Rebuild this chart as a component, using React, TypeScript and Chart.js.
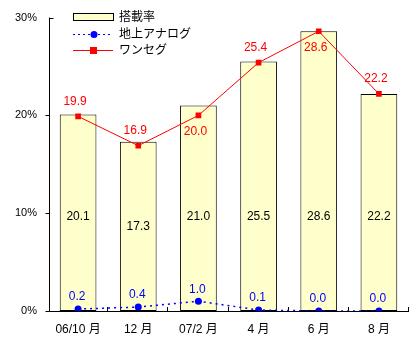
import React, { useEffect, useRef } from "react";
import { Chart, registerables } from "chart.js";

Chart.register(...registerables);

const categories = ["06/10 月", "12 月", "07/2 月", "4 月", "6 月", "8 月"];
const rateValues = [20.1, 17.3, 21.0, 25.5, 28.6, 22.2];
const analogValues = [0.2, 0.4, 1.0, 0.1, 0.0, 0.0];
const onesegValues = [19.9, 16.9, 20.0, 25.4, 28.6, 22.2];
const yTicks = [0, 10, 20, 30];
const legendLabels = ["搭載率", "地上アナログ", "ワンセグ"];

const FONT = "'Liberation Sans', 'Noto Sans CJK JP', sans-serif";
const BAR_FILL = "#FFFFCC";
const RED = "#FF0000";
const BLUE = "#0000FF";

const customPlugin = {
  id: "custom",
  beforeDatasetsDraw(chart: any) {
    const ctx = chart.ctx;
    const { left, right, top, bottom } = chart.chartArea;
    const y = chart.scales.y;
    const x = chart.scales.x;
    ctx.save();
    ctx.strokeStyle = "#000";
    ctx.lineWidth = 1;
    ctx.beginPath();
    const ax = Math.round(left) + 1.5;
    ctx.moveTo(ax, top);
    ctx.lineTo(ax, bottom + 0.5);
    ctx.moveTo(ax, Math.round(bottom) + 0.5);
    ctx.lineTo(right, Math.round(bottom) + 0.5);
    yTicks.forEach((t, i) => {
      const py = Math.round(y.getPixelForValue(t)) + 0.5;
      if (i === yTicks.length - 1) {
        ctx.moveTo(ax, py);
        ctx.lineTo(ax + 4, py);
      } else {
        ctx.moveTo(ax - 4, py);
        ctx.lineTo(ax, py);
      }
    });
    const n = categories.length;
    for (let i = 1; i <= n; i++) {
      const px = Math.round(left + ((right - left) * i) / n) - 0.5;
      ctx.moveTo(px, Math.round(bottom) + 0.5);
      ctx.lineTo(px, Math.round(bottom) - 4);
    }
    ctx.stroke();
    ctx.restore();
  },
  afterDatasetsDraw(chart: any) {
    const ctx = chart.ctx;
    const x = chart.scales.x;
    const y = chart.scales.y;
    ctx.save();
    ctx.font = "12px " + FONT;
    ctx.textAlign = "center";
    ctx.textBaseline = "middle";
    // bar labels
    ctx.fillStyle = "#000";
    rateValues.forEach((v, i) => {
      const px = x.getPixelForValue(i);
      const py = y.getPixelForValue(Math.min(v / 2, 9.6));
      ctx.fillText(v.toFixed(1), px, py);
    });
    // oneseg labels
    ctx.fillStyle = RED;
    onesegValues.forEach((v, i) => {
      const px = x.getPixelForValue(i) - 3;
      const p = y.getPixelForValue(v);
      const below = i > 0 && i < onesegValues.length - 1 && v < onesegValues[i - 1] === false && v < onesegValues[i + 1] && v > onesegValues[i - 1] === false ? false : false;
      const prev = i > 0 ? onesegValues[i - 1] : null;
      const isBelow = prev !== null && v > prev && v - prev < 5;
      ctx.fillText(v.toFixed(1), px, isBelow ? p + 16 : p - 15);
    });
    // analog labels
    ctx.fillStyle = BLUE;
    analogValues.forEach((v, i) => {
      const px = x.getPixelForValue(i) - 1;
      const p = y.getPixelForValue(v);
      ctx.fillText(v.toFixed(1), px, p - 12);
    });
    ctx.restore();
  },
  afterDraw(chart: any) {
    const ctx = chart.ctx;
    ctx.save();
    // legend
    const lx = 73;
    const rows = [17, 34, 50];
    ctx.fillStyle = BAR_FILL;
    ctx.fillRect(lx, 13, 40, 7);
    ctx.strokeStyle = "#000";
    ctx.lineWidth = 1;
    ctx.strokeRect(lx + 0.5, 13.5, 40, 7);
    // analog
    ctx.strokeStyle = BLUE;
    ctx.setLineDash([2, 3]);
    ctx.beginPath();
    ctx.moveTo(lx, rows[1] + 0.5);
    ctx.lineTo(lx + 40, rows[1] + 0.5);
    ctx.stroke();
    ctx.setLineDash([]);
    ctx.fillStyle = BLUE;
    ctx.beginPath();
    ctx.arc(lx + 21, rows[1] + 0.5, 3.5, 0, Math.PI * 2);
    ctx.fill();
    // oneseg
    ctx.strokeStyle = RED;
    ctx.beginPath();
    ctx.moveTo(lx, rows[2] + 0.5);
    ctx.lineTo(lx + 40, rows[2] + 0.5);
    ctx.stroke();
    ctx.fillStyle = RED;
    ctx.fillRect(lx + 17, rows[2] - 3, 7, 7);
    ctx.fillStyle = "#000";
    ctx.font = "12px " + FONT;
    ctx.textAlign = "left";
    ctx.textBaseline = "middle";
    legendLabels.forEach((t, i) => {
      ctx.fillText(t, 119, rows[i] + 0.5);
    });
    ctx.restore();
  },
};

export default function App() {
  const ref = useRef<HTMLCanvasElement>(null);
  useEffect(() => {
    document.body.style.margin = "0";
    const chart = new Chart(ref.current!, {
      type: "bar",
      data: {
        labels: categories,
        datasets: [
          {
            type: "line",
            label: legendLabels[2],
            data: onesegValues,
            borderColor: RED,
            backgroundColor: RED,
            borderWidth: 1,
            pointStyle: "rect",
            pointRadius: 4,
            pointBorderWidth: 0,
            order: 0,
          },
          {
            type: "line",
            label: legendLabels[1],
            data: analogValues,
            borderColor: BLUE,
            backgroundColor: BLUE,
            borderWidth: 1.5,
            borderDash: [2, 4],
            pointStyle: "circle",
            pointRadius: 3.5,
            pointBorderWidth: 0,
            order: 1,
          },
          {
            type: "bar",
            label: legendLabels[0],
            data: rateValues,
            backgroundColor: BAR_FILL,
            borderColor: "#000",
            borderWidth: 1,
            borderSkipped: false,
            barPercentage: 0.61,
            categoryPercentage: 1,
            order: 2,
          },
        ],
      },
      options: {
        animation: false,
        responsive: false,
        maintainAspectRatio: false,
        layout: { padding: { top: 16, right: 8, left: 0, bottom: 0 } },
        plugins: { legend: { display: false }, tooltip: { enabled: false } },
        scales: {
          x: {
            grid: { display: false, drawTicks: false },
            border: { display: false },
            ticks: {
              color: "#000",
              font: { family: FONT, size: 12 },
              padding: 11,
              maxRotation: 0,
              autoSkip: false,
            },
            afterFit: (s: any) => {
              s.height = 44;
            },
          },
          y: {
            min: 0,
            max: 30,
            grid: { display: false, drawTicks: false },
            border: { display: false },
            ticks: {
              stepSize: 10,
              color: "#000",
              font: { family: FONT, size: 11 },
              padding: 11,
              callback: (v: any) => v + "%",
            },
            afterFit: (s: any) => {
              s.width = 48;
            },
          },
        },
      },
      plugins: [customPlugin],
    });
    return () => chart.destroy();
  }, []);
  return <canvas ref={ref} width={417} height={355} style={{ display: "block" }} />;
}
